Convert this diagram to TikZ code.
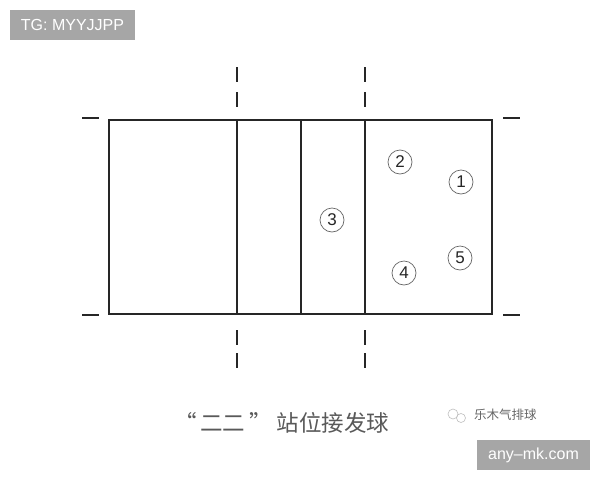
\documentclass[tikz,border=0pt]{standalone}
\usepackage{fontspec}
\setmainfont{Liberation Sans}
\newfontfamily\cjk{Noto Sans CJK SC}
\begin{document}
\begin{tikzpicture}[x=1pt,y=-1pt,
  court/.style={line width=2.8pt,black!85},
  tickmark/.style={line width=2.8pt,black!85},
  player/.style={circle,draw=black!60,line width=0.7pt,minimum size=24pt,inner sep=0pt,font=\fontsize{17}{17}\selectfont,text=black!85},
  wmbox/.style={fill=black!35,text=white,font=\fontsize{16}{16}\selectfont,inner sep=0pt,minimum height=30pt}]
\useasboundingbox (0,0) rectangle (600,480);
\fill[white] (0,0) rectangle (600,480);
% court
\coordinate (tl) at (109,120);
\coordinate (br) at (492,314);
\draw[court] (tl) rectangle (br);
\draw[court] (237,120) -- (237,314);
\draw[court] (301,120) -- (301,314);
\draw[court] (365,120) -- (365,314);
% side ticks
\draw[tickmark] (82,118) -- (99,118);
\draw[tickmark] (82,315) -- (99,315);
\draw[tickmark] (503,118) -- (520,118);
\draw[tickmark] (503,315) -- (520,315);
% dashed extensions
\foreach \x in {237,365}{
  \draw[tickmark] (\x,67) -- (\x,82);
  \draw[tickmark] (\x,92) -- (\x,107);
  \draw[tickmark] (\x,330) -- (\x,345);
  \draw[tickmark] (\x,353) -- (\x,368);
}
% players
\node[player] (p1) at (461,182) {1};
\node[player] (p2) at (400,162) {2};
\node[player] (p3) at (332,220) {3};
\node[player] (p4) at (404,273) {4};
\node[player] (p5) at (460,258) {5};
% caption
\node[font=\cjk\fontsize{22.5}{22.5}\selectfont,text=black!65,anchor=west,inner sep=0pt] (cap) at (174,423) {“\,二二\,”\ 站位接发球};
% watermark
\draw[black!25,line width=0.6pt] (453,414) circle (5);
\draw[black!25,line width=0.6pt] (461,418) circle (4.5);
\node[font=\cjk\fontsize{12.5}{12.5}\selectfont,text=black!60,anchor=west,inner sep=0pt] (wm) at (474,415) {乐木气排球};
\node[wmbox,minimum width=125pt] (tg) at (72.5,25) {TG: MYYJJPP};
\node[wmbox,minimum width=113pt] (am) at (533.5,455) {any–mk.com};
\end{tikzpicture}
\end{document}
